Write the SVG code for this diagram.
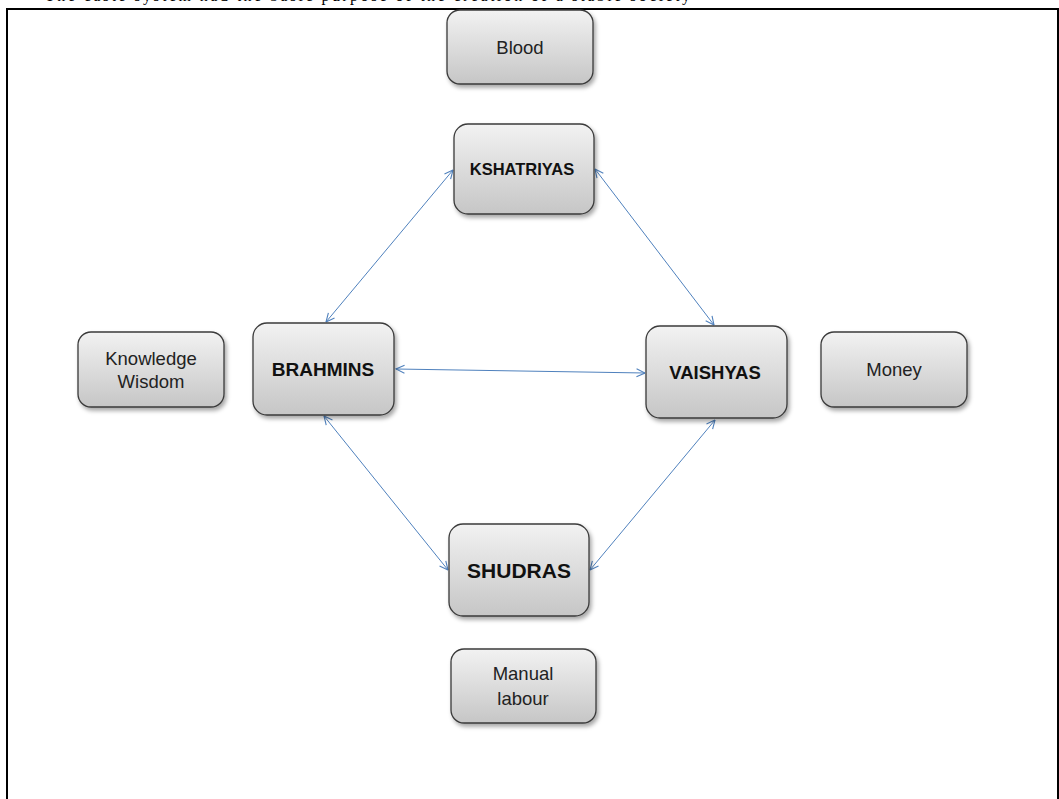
<svg xmlns="http://www.w3.org/2000/svg" width="1059" height="799" viewBox="0 0 1059 799">
<defs>
<linearGradient id="g" x1="0" y1="0" x2="0" y2="1">
<stop offset="0" stop-color="#f2f2f2"/>
<stop offset="1" stop-color="#c6c6c6"/>
</linearGradient>
<filter id="sh" x="-10%" y="-10%" width="130%" height="130%">
<feDropShadow dx="2" dy="3" stdDeviation="2" flood-color="#000" flood-opacity="0.35"/>
</filter>
<marker id="ah" viewBox="0 0 10 10" refX="9.5" refY="5" markerWidth="10" markerHeight="10" markerUnits="userSpaceOnUse" orient="auto-start-reverse">
<path d="M1,1 L9.5,5 L1,9" fill="none" stroke="#4f81bd" stroke-width="1.1"/>
</marker>
</defs>
<style>
.box{fill:url(#g);stroke:#3a3a3a;stroke-width:1.3;filter:url(#sh)}
.t{font-family:"Liberation Sans",Arial,sans-serif;font-size:18.5px;fill:#222;text-anchor:middle}
.b{font-family:"Liberation Sans",Arial,sans-serif;font-weight:bold;fill:#111;text-anchor:middle}
.c{stroke:#4f81bd;stroke-width:1;fill:none;marker-start:url(#ah);marker-end:url(#ah)}
</style>
<rect width="1059" height="799" fill="#fff"/>
<text x="45" y="1" font-family="Liberation Serif,Times New Roman,serif" font-size="16" fill="#000" textLength="645">The caste system had the basic purpose of the creation of a stable society</text>
<rect x="7" y="9" width="1051" height="800" fill="none" stroke="#000" stroke-width="2"/>
<g id="connectors">
<line class="c" x1="326" y1="322" x2="453" y2="170"/>
<line class="c" x1="595" y1="169" x2="714" y2="325"/>
<line class="c" x1="396" y1="369" x2="645" y2="373"/>
<line class="c" x1="324" y1="416" x2="448" y2="570"/>
<line class="c" x1="715" y1="420" x2="590" y2="570"/>
</g>
<g id="blood"><rect class="box" x="447" y="10" width="146" height="74" rx="13"/><text class="t" x="520" y="54">Blood</text></g>
<g id="kshatriyas"><rect class="box" x="454" y="124" width="140" height="90" rx="14"/><text class="b" x="522" y="175" font-size="16.5">KSHATRIYAS</text></g>
<g id="brahmins"><rect class="box" x="253" y="323" width="141" height="92" rx="14"/><text class="b" x="323" y="376" font-size="19">BRAHMINS</text></g>
<g id="vaishyas"><rect class="box" x="646" y="326" width="141" height="92" rx="14"/><text class="b" x="715" y="379" font-size="18.5">VAISHYAS</text></g>
<g id="knowledge"><rect class="box" x="78" y="332" width="146" height="75" rx="13"/><text class="t" x="151" y="365">Knowledge</text><text class="t" x="151" y="388">Wisdom</text></g>
<g id="money"><rect class="box" x="821" y="332" width="146" height="75" rx="13"/><text class="t" x="894" y="376">Money</text></g>
<g id="shudras"><rect class="box" x="449" y="524" width="140" height="92" rx="14"/><text class="b" x="519" y="578" font-size="21">SHUDRAS</text></g>
<g id="manual"><rect class="box" x="451" y="649" width="145" height="74" rx="13"/><text class="t" x="523" y="680">Manual</text><text class="t" x="523" y="705">labour</text></g>
</svg>
